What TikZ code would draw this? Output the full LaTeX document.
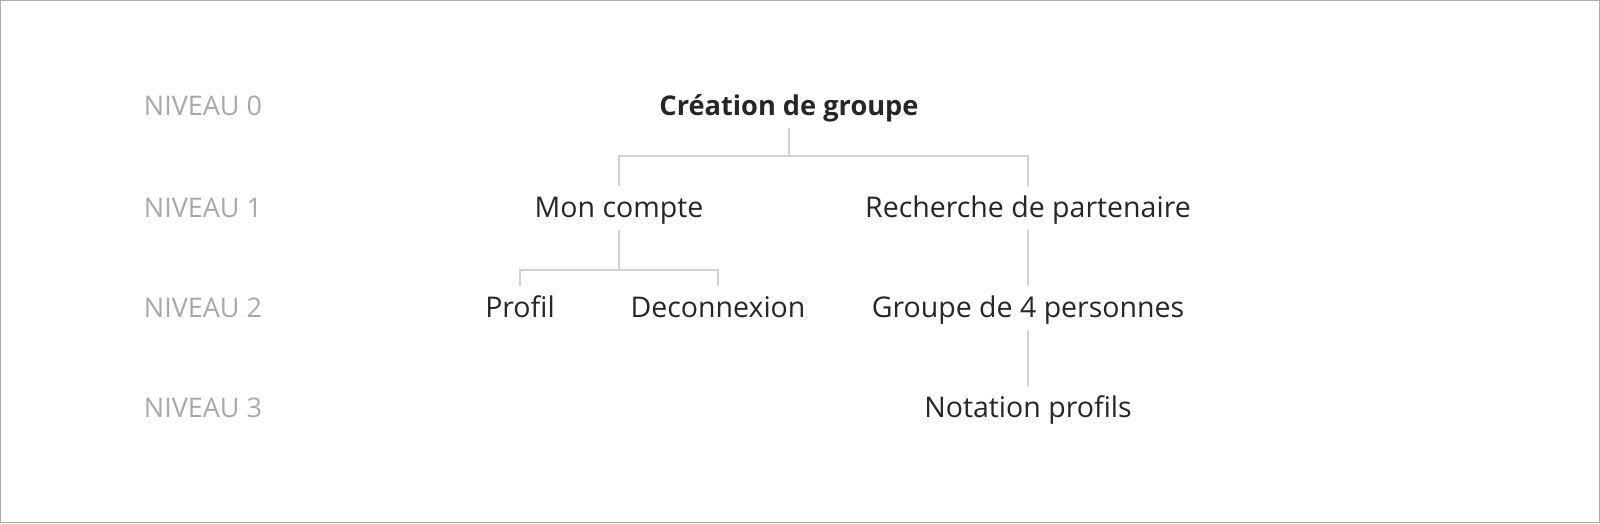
\documentclass[tikz,border=0pt]{standalone}
\usepackage{fontspec}
\setmainfont{Open Sans}
\usetikzlibrary{positioning}

\definecolor{linkgray}{HTML}{D2D2D2}
\definecolor{levelgray}{HTML}{A8A8AC}
\definecolor{framegray}{HTML}{ABABAB}

\tikzset{
  item/.style={inner sep=0pt, minimum height=44pt, text height=22pt, text depth=4pt,
    font=\fontsize{28.5}{33}\selectfont, text=black!85},
  level/.style={item, font=\fontsize{27}{31}\selectfont, text=levelgray},
  link/.style={draw=linkgray, line width=2pt},
}

\begin{document}
\begin{tikzpicture}[x=1pt, y=-1pt]

  \useasboundingbox (0,0) rectangle (1600,523);
  \draw[framegray, line width=1.2pt] (0.6,0.6) rectangle (1599.4,522.4);

  %% levels
  \node[level] (n0) at (203,106) {NIVEAU 0};
  \node[level] (n1) at (203,208) {NIVEAU 1};
  \node[level] (n2) at (203,308) {NIVEAU 2};
  \node[level] (n3) at (203,408) {NIVEAU 3};

  %% tree
  \node[item, font=\fontsize{27.2}{31}\selectfont\bfseries] (cre) at (789,106) {Création de groupe};
  \node[item] (mon)  at (619,208) {Mon compte};
  \node[item] (rech) at (1028,208) {Recherche de partenaire};
  \node[item] (prof) at (520,308) {Profil};
  \node[item] (deco) at (718,308) {Deconnexion};
  \node[item] (grp)  at (1028,308) {Groupe de 4 personnes};
  \node[item] (nota) at (1028,408) {Notation profils};

  \draw[link] (cre.south) -- ++(0,28) -| (mon.north);
  \draw[link] (cre.south) ++(0,28) -| (rech.north);
  \draw[link] (mon.south) -- ++(0,40) -| (prof.north);
  \draw[link] (mon.south) ++(0,40) -| (deco.north);
  \draw[link] (rech.south) -- (grp.north);
  \draw[link] (grp.south) -- (nota.north);

\end{tikzpicture}
\end{document}
